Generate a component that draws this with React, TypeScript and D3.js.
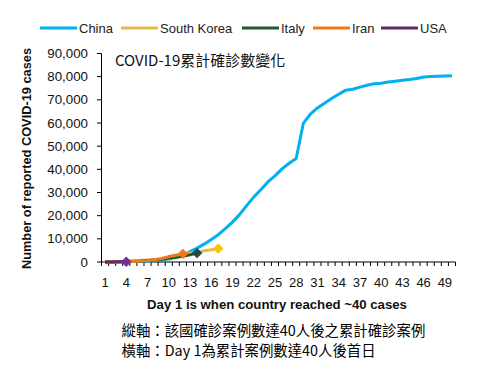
import React from "react";
import * as d3 from "d3";

const days = d3.range(1, 51);
const tickDays = [1, 4, 7, 10, 13, 16, 19, 22, 25, 28, 31, 34, 37, 40, 43, 46, 49];
const yTicks = [0, 10000, 20000, 30000, 40000, 50000, 60000, 70000, 80000, 90000];

const china = [41, 41, 45, 62, 198, 291, 440, 571, 830, 1287, 1975, 2744, 4515, 5974, 7711, 9692, 11791, 14380, 17205, 20438, 24324, 28018, 31161, 34546, 37198, 40171, 42638, 44653, 59804, 63851, 66492, 68500, 70548, 72436, 74185, 74576, 75465, 76288, 76936, 77150, 77658, 78064, 78497, 78824, 79251, 79824, 80026, 80151, 80270, 80409];
const southKorea = [31, 51, 104, 204, 433, 602, 833, 977, 1261, 1766, 2337, 3150, 3736, 4212, 4812, 5328, 5766];
const italy = [20, 62, 155, 229, 322, 453, 655, 888, 1128, 1694, 2036, 2502, 3089, 3858];
const iran = [43, 61, 95, 139, 245, 388, 593, 978, 1501, 2336, 2922, 3513];
const usa = [43, 53, 73, 118];

const seriesNames = ["China", "South Korea", "Italy", "Iran", "USA"];
const seriesData = [china, southKorea, italy, iran, usa];
const lineColors = ["#00B0F0", "#E6B94A", "#1E5A35", "#F07A16", "#5E2D6E"];
const markerColors = ["#00B0F0", "#FFC000", "#21494A", "#F07A16", "#7030A0"];

const x = d3.scaleBand<number>().domain(days).range([101.5, 455.5]).padding(0);
const xc = (d: number) => (x(d) as number) + x.bandwidth() / 2;
const y = d3.scaleLinear().domain([0, 90000]).range([262, 53.5]);

const line = d3
  .line<number>()
  .x((_, i) => xc(i + 1))
  .y((v) => y(v));

const diamond = d3.symbol().type(d3.symbolSquare).size(40)();

const LATIN = "'Liberation Sans', Arial, sans-serif";
const CJK = "'Noto Sans CJK TC', 'Noto Sans', sans-serif";

const legendX = [40, 121, 242, 313, 381];

export default function App() {
  return (
    <svg
      width={484}
      height={377}
      style={{ position: "absolute", left: 0, top: 0, background: "#fff" }}
    >
      {/* Legend */}
      {seriesNames.map((n, i) => (
        <g key={n} transform={`translate(${legendX[i]},28)`}>
          <line x1={0} x2={37} y1={0} y2={0} stroke={lineColors[i]} strokeWidth={3} />
          <text x={39} y={4.5} fontFamily={LATIN} fontSize={13} fill="#222">
            {n}
          </text>
        </g>
      ))}

      {/* Y axis */}
      <line x1={101.5} x2={101.5} y1={y(90000)} y2={262} stroke="#000" strokeWidth={1} />
      {yTicks.map((t) => (
        <g key={t}>
          <line x1={97} x2={101.5} y1={y(t)} y2={y(t)} stroke="#000" />
          <text
            x={88}
            y={y(t) + 4.5}
            textAnchor="end"
            fontFamily={LATIN}
            fontSize={13.3}
            fill="#111"
          >
            {d3.format(",")(t)}
          </text>
        </g>
      ))}
      <text
        transform={`translate(31,158.5) rotate(-90)`}
        textAnchor="middle"
        fontFamily={LATIN}
        fontSize={12.8}
        fontWeight="bold"
        fill="#111"
      >
        Number of reported COVID-19 cases
      </text>

      {/* X axis */}
      <line x1={101.5} x2={455.5} y1={262} y2={262} stroke="#000" />
      {days.concat([51]).map((d) => {
        const px = d === 51 ? 455.5 : (x(d) as number);
        return <line key={d} x1={px} x2={px} y1={262} y2={266} stroke="#000" />;
      })}
      {tickDays.map((d) => (
        <text
          key={d}
          x={xc(d)}
          y={287}
          textAnchor="middle"
          fontFamily={LATIN}
          fontSize={13}
          fill="#111"
        >
          {d}
        </text>
      ))}
      <text
        x={277}
        y={308.5}
        textAnchor="middle"
        fontFamily={LATIN}
        fontSize={13.2}
        fontWeight="bold"
        fill="#111"
      >
        Day 1 is when country reached ~40 cases
      </text>

      {/* Title in plot */}
      <text x={115} y={66} fontFamily={CJK} fontSize={15} fill="#111">
        COVID-19累計確診數變化
      </text>

      {/* Series */}
      {seriesData.map((s, i) => (
        <path
          key={seriesNames[i]}
          d={line(s) as string}
          fill="none"
          stroke={lineColors[i]}
          strokeWidth={3}
          strokeLinejoin="round"
        />
      ))}
      {seriesData.map((s, i) =>
        i === 0 ? null : (
          <path
            key={"m" + seriesNames[i]}
            d={diamond as string}
            transform={`translate(${xc(s.length)},${y(s[s.length - 1])}) rotate(45)`}
            fill={markerColors[i]}
            stroke={markerColors[i]}
            strokeWidth={1}
          />
        )
      )}

      {/* Notes */}
      <text x={121.5} y={336} fontFamily={CJK} fontSize={14.4} fill="#000">
        縱軸：該國確診案例數達40人後之累計確診案例
      </text>
      <text x={121.5} y={356} fontFamily={CJK} fontSize={14.4} fill="#000">
        橫軸：Day 1為累計案例數達40人後首日
      </text>
    </svg>
  );
}
